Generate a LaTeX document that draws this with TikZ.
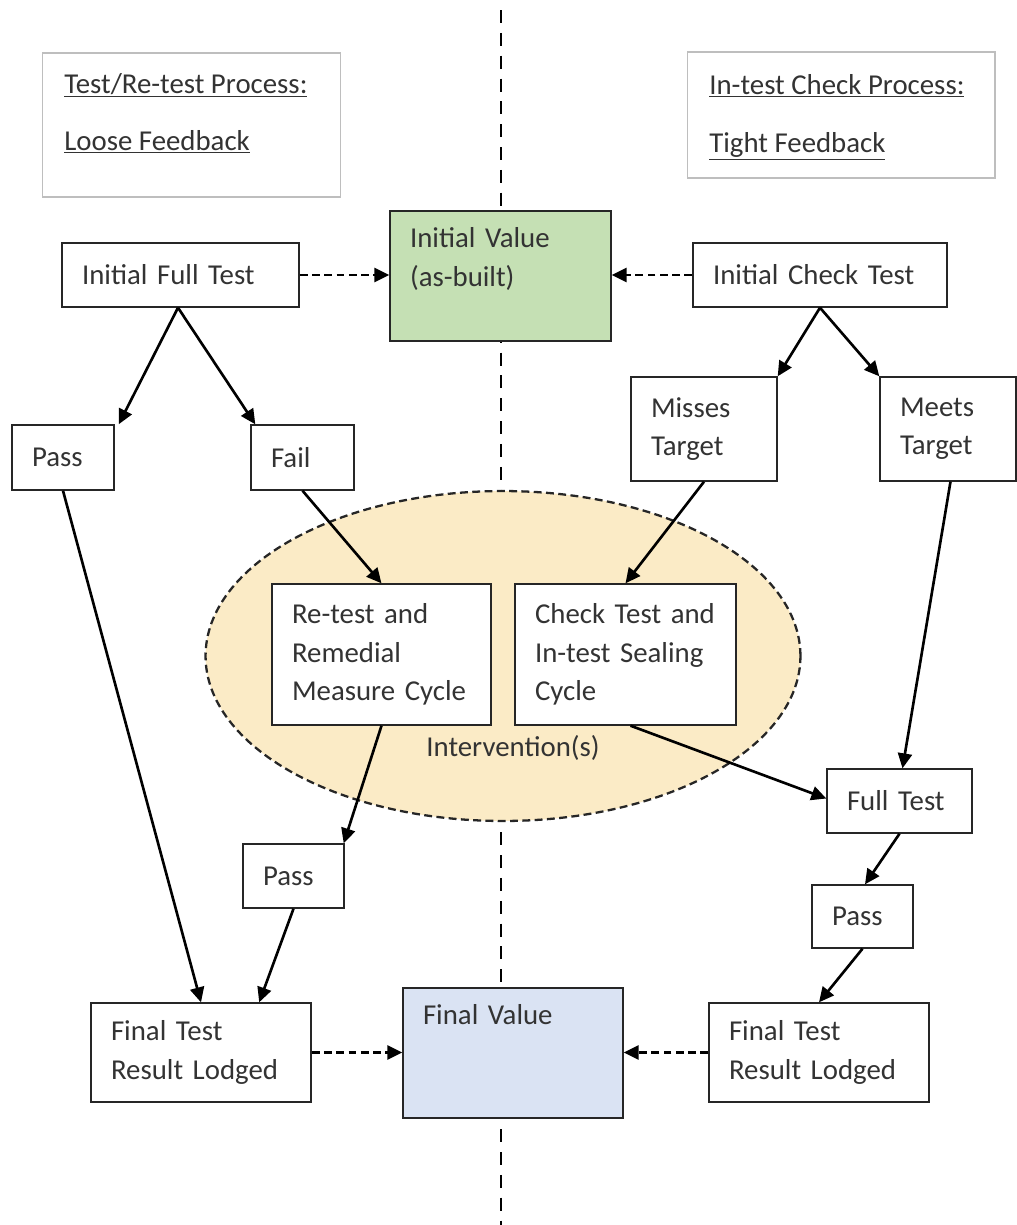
\documentclass[tikz,border=0pt]{standalone}
\usepackage{fontspec}
\setmainfont{Carlito}
\usepackage{tikz}
\usetikzlibrary{arrows.meta, positioning, shapes.geometric}

\definecolor{valgreen}{RGB}{197,224,180}
\definecolor{valblue}{RGB}{218,227,243}
\definecolor{ovalfill}{RGB}{251,235,198}
\definecolor{titlegray}{RGB}{190,190,190}

\begin{document}
\begin{tikzpicture}[x=0.02cm, y=-0.02cm,
        every node/.style={font=\fontsize{16.4}{21.8}\selectfont, text=black!80},
        box/.style 2 args={rectangle, draw=black!85, line width=0.8pt, fill=white, align=left, inner xsep=0.4cm, inner ysep=2pt, text width=#1, minimum height=#2},
        titlebox/.style={rectangle, draw=titlegray, line width=0.6pt},
        titletext/.style={anchor=base west, inner sep=0pt},
        arrow/.style={-{Triangle[length=8.5pt, width=8pt]}, line width=1.5pt},
        dasharrow/.style={-{Triangle[length=8.5pt, width=8pt]}, line width=1.4pt, dash pattern=on 4.5pt off 2.5pt},
        divider/.style={line width=1.5pt, dash pattern=on 7.4pt off 5.6pt}
    ]
        \useasboundingbox (0,0) rectangle (1017,1225);

        % linia podzialu
        \draw[divider] (501,10) -- (501,1225);

        % obszar interwencji
        \node[ellipse, draw=black!85, line width=1.3pt, dash pattern=on 4.5pt off 2.5pt, fill=ovalfill, minimum width=11.9cm, minimum height=6.6cm] (oval) at (503,656) {};
        \node (interv) at (513,748) {Intervention(s)};

        % tytuly
        \node[titlebox, minimum width=5.98cm, minimum height=2.88cm] (tlbox) at (191.5,125) {};
        \node[titletext] (tlhead) at (64,93) {\underline{Test/Re-test Process:}};
        \node[titletext] (tlsub) at (64,150) {\underline{Loose Feedback}};
        \node[titlebox, minimum width=6.16cm, minimum height=2.52cm] (trbox) at (841,115) {};
        \node[titletext] (trhead) at (709,94) {\underline{In-test Check Process:}};
        \node[titletext] (trsub) at (709,152) {\underline{Tight Feedback}};

        % wartosci
        \node[box={3.62cm}{2.6cm}, fill=valgreen] (iv) at (500.5,276) {Initial Value\\(as-built)\\\mbox{}};
        \node[box={3.6cm}{2.6cm}, fill=valblue] (fv) at (513,1053) {Final Value\\\mbox{}\\\mbox{}};

        % lewa strona
        \node[box={3.94cm}{1.28cm}] (ift) at (180.5,275) {Initial Full Test};
        \node[box={1.24cm}{1.3cm}] (passl) at (63,457.5) {Pass};
        \node[box={1.26cm}{1.3cm}] (fail) at (302.5,457.5) {Fail};
        \node[box={3.58cm}{2.82cm}] (retest) at (381.5,654.5) {Re-test and\\Remedial\\Measure Cycle};
        \node[box={1.22cm}{1.28cm}] (passm) at (293.5,876) {Pass};
        \node[box={3.6cm}{1.98cm}] (finl) at (201,1052.5) {Final Test\\Result Lodged};

        % prawa strona
        \node[box={4.28cm}{1.28cm}] (ict) at (820,275) {Initial Check Test};
        \node[box={2.12cm}{2.08cm}] (misses) at (704,429) {Misses\\Target};
        \node[box={1.92cm}{2.08cm}] (meets) at (948,429) {Meets\\Target};
        \node[box={3.62cm}{2.82cm}] (check) at (625.5,654.5) {Check Test and\\In-test Sealing\\Cycle};
        \node[box={2.1cm}{1.28cm}] (fullt) at (899.5,801) {Full Test};
        \node[box={1.22cm}{1.26cm}] (passr) at (862.5,916.5) {Pass};
        \node[box={3.6cm}{1.98cm}] (finr) at (819,1052.5) {Final Test\\Result Lodged};

        % polaczenia przerywane
        \draw[dasharrow] (ift.east) -- (iv.west |- ift.east);
        \draw[dasharrow] (ict.east -| ict.west) -- (iv.east |- ict.west);
        \draw[dasharrow] (finl.east) -- (fv.west |- finl.east);
        \draw[dasharrow] (finr.west) -- (fv.east |- finr.west);

        % lewa galaz
        \draw[arrow] ([xshift=-0.05cm]ift.south) -- ([xshift=0.08cm]passl.north east);
        \draw[arrow] ([xshift=-0.05cm]ift.south) -- ([xshift=0.1cm]fail.north west);
        \draw[arrow] (fail.south) -- (retest.north);
        \draw[arrow] (passl.south) -- (finl.north);
        \draw[arrow] (retest.south) -- ([xshift=-0.02cm]passm.north east);
        \draw[arrow] (passm.south) -- ([xshift=-1.05cm]finl.north east);

        % prawa galaz
        \draw[arrow] (ict.south) -- (misses.north east);
        \draw[arrow] (ict.south) -- (meets.north west);
        \draw[arrow] (misses.south) -- (check.north);
        \draw[arrow] ([xshift=0.05cm]meets.south) -- ([xshift=0.06cm]fullt.north);
        \draw[arrow] ([xshift=0.1cm]check.south) -- ([yshift=0.05cm]fullt.west);
        \draw[arrow] (fullt.south) -- ([xshift=0.05cm]passr.north);
        \draw[arrow] (passr.south) -- (finr.north);

    \end{tikzpicture}
\end{document}
